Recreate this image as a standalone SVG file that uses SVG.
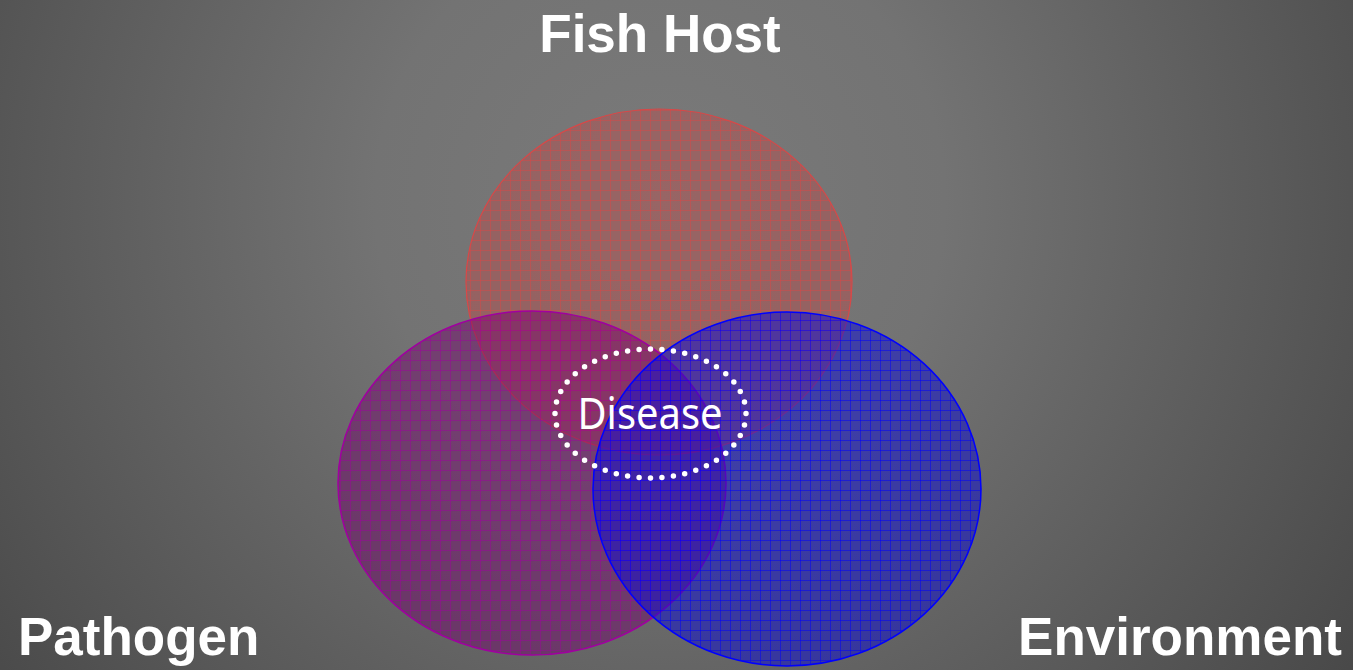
<svg xmlns="http://www.w3.org/2000/svg" width="1353" height="670" viewBox="0 0 1353 670">
  <defs>
    <radialGradient id="bg" gradientUnits="userSpaceOnUse" cx="660" cy="200" r="950">
      <stop offset="0" stop-color="#7a7a7a"/>
      <stop offset="0.3" stop-color="#737373"/>
      <stop offset="1" stop-color="#404040"/>
    </radialGradient>
    <pattern id="gridRed" patternUnits="userSpaceOnUse" width="10" height="10">
      <path d="M0 0.5H10M0.5 0V10" stroke="#d84848" stroke-width="1" stroke-opacity="0.5" fill="none"/>
    </pattern>
    <pattern id="gridPurple" patternUnits="userSpaceOnUse" width="10" height="10">
      <path d="M0 0.5H10M0.5 0V10" stroke="#a000a0" stroke-width="1" stroke-opacity="0.45" fill="none"/>
    </pattern>
    <pattern id="gridBlue" patternUnits="userSpaceOnUse" width="10" height="10">
      <path d="M0 0.5H10M0.5 0V10" stroke="#0000ff" stroke-width="1" stroke-opacity="0.5" fill="none"/>
    </pattern>
  </defs>
  <style>
    .label { font-family: "Liberation Sans", Arial, sans-serif; font-weight: bold; font-size: 53px; fill: #ffffff; }
    .disease { font-family: "Noto Sans", "Open Sans", sans-serif; font-size: 43px; fill: #ffffff; }
  </style>
  <rect x="0" y="0" width="1353" height="670" fill="url(#bg)"/>

  <g id="fish-host">
    <ellipse cx="659" cy="282" rx="193" ry="173" fill="#d04040" fill-opacity="0.35"/>
    <ellipse cx="659" cy="282" rx="193" ry="173" fill="url(#gridRed)" stroke="#d84848" stroke-width="1.2"/>
  </g>
  <g id="pathogen">
    <ellipse cx="532" cy="483" rx="194" ry="172" fill="#74006c" fill-opacity="0.45"/>
    <ellipse cx="532" cy="483" rx="194" ry="172" fill="url(#gridPurple)" stroke="#a000a0" stroke-width="1.5"/>
  </g>
  <g id="environment">
    <ellipse cx="787" cy="489" rx="194" ry="177" fill="#0a0ad8" fill-opacity="0.5"/>
    <ellipse cx="787" cy="489" rx="194" ry="177" fill="url(#gridBlue)" stroke="#0000ff" stroke-width="1.5"/>
  </g>

  <g id="disease">
    <ellipse cx="650.5" cy="413.5" rx="95.5" ry="64.5" fill="none" stroke="#ffffff" stroke-width="5.5" stroke-linecap="round" pathLength="44" stroke-dasharray="0 1"/>
    <text class="disease" x="650" y="429" text-anchor="middle" textLength="145" lengthAdjust="spacingAndGlyphs">Disease</text>
  </g>

  <g id="labels">
    <text class="label" x="660" y="52" text-anchor="middle">Fish Host</text>
    <text class="label" x="18" y="655">Pathogen</text>
    <text class="label" x="1342" y="655" text-anchor="end">Environment</text>
  </g>

  <g id="connectors"></g>
</svg>
